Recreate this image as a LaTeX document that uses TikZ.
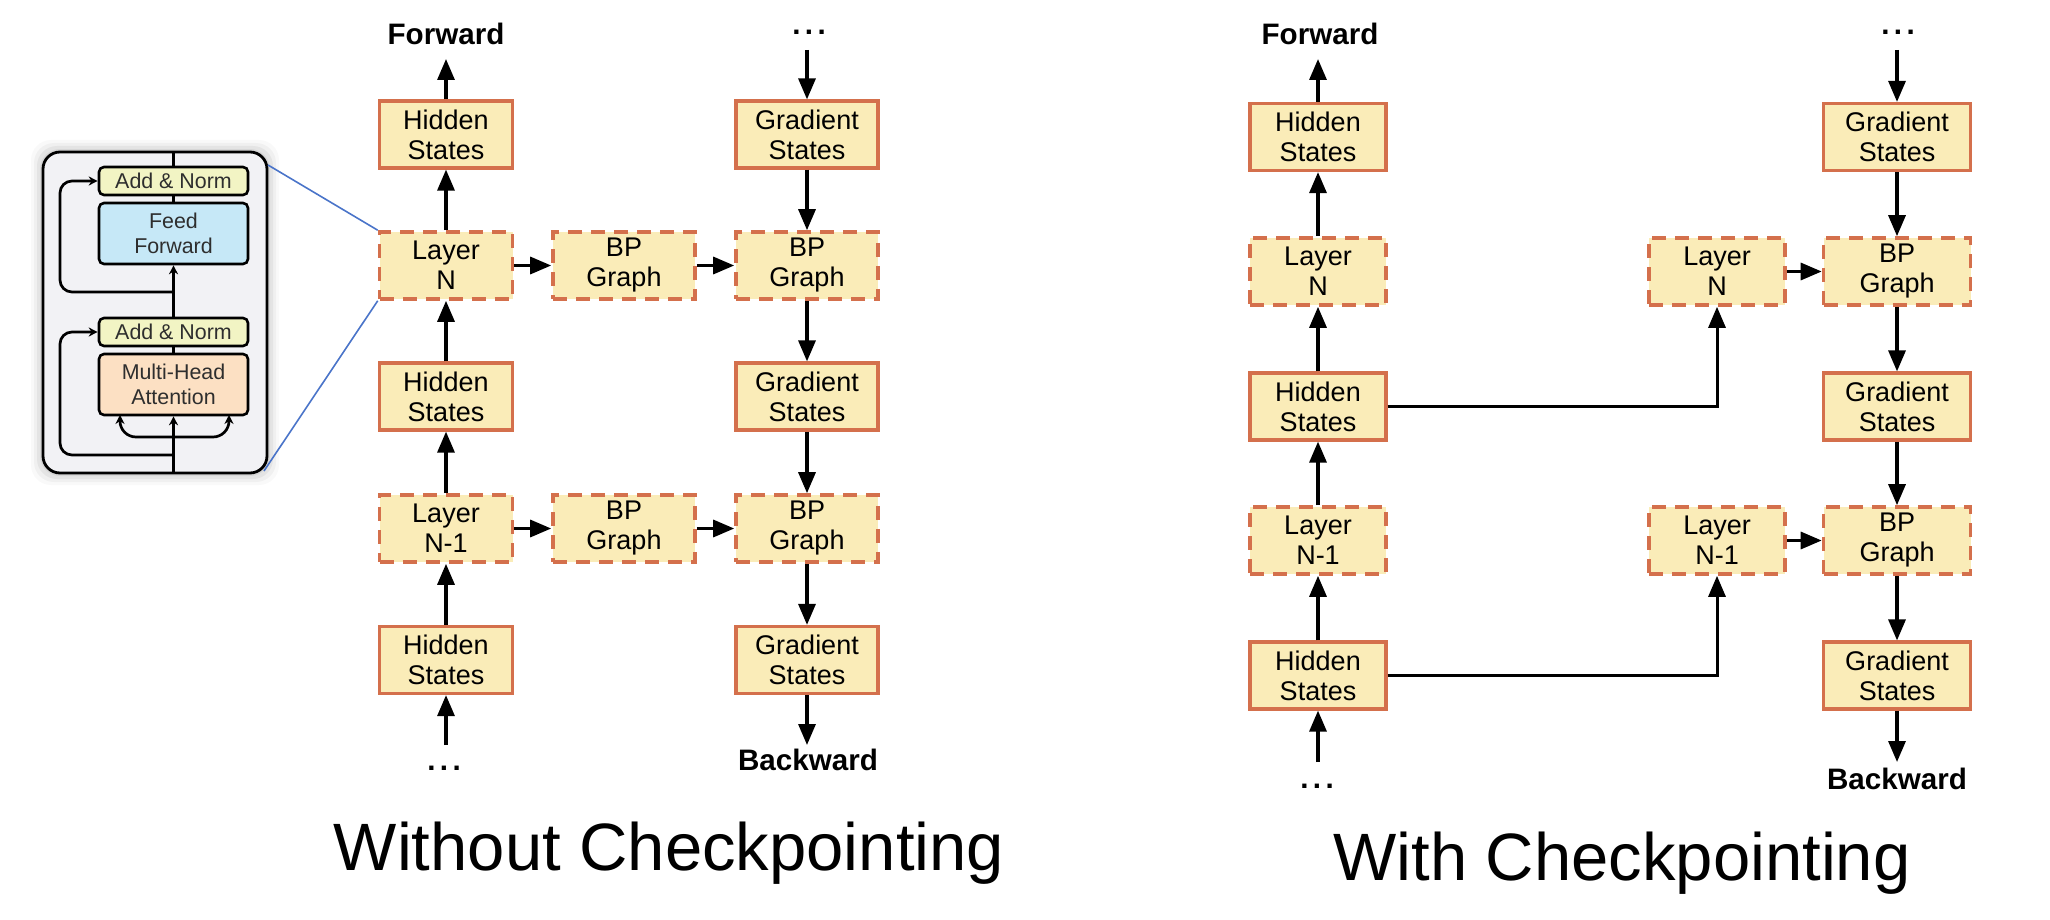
\documentclass[tikz,border=0pt]{standalone}
\usepackage{fontspec}
\setmainfont{Liberation Sans}
\usetikzlibrary{arrows.meta}
\definecolor{boxfill}{HTML}{FAECB8}
\definecolor{boxborder}{HTML}{D4704C}
\definecolor{insetbg}{HTML}{F2F2F5}
\definecolor{anfill}{HTML}{F2F4C4}
\definecolor{fffill}{HTML}{C6E8F7}
\definecolor{mhafill}{HTML}{FCE0C3}
\definecolor{zoomblue}{HTML}{4A74C9}
\definecolor{insettext}{HTML}{2E2E2E}
\newcommand\boxfont{\fontsize{13.5}{15}\selectfont}
\newcommand\dirfont{\fontsize{14.8}{16}\selectfont\bfseries}
\newcommand\capfont{\fontsize{33.5}{36}\selectfont}
\newcommand\insetfont{\fontsize{10.7}{12.5}\selectfont\color{insettext}}
\newcommand\mydots{.\kern2.2pt.\kern2.2pt.}
\begin{document}
\begin{tikzpicture}[x=0.5pt,y=-0.5pt,
  solidbox/.style={draw=boxborder, fill=boxfill, line width=1.6pt, align=center,
     font=\boxfont, inner sep=0pt, minimum height=33.5pt},
  dashbox/.style={solidbox, dash pattern=on 7pt off 4.5pt, line width=1.8pt},
  arr/.style={line width=1.6pt, -{Triangle[length=10.5pt,width=8.5pt]}},
  thinarr/.style={line width=1.5pt, -{Triangle[length=10.5pt,width=8.5pt]}},
  dirtext/.style={font=\dirfont, anchor=base, inner sep=0pt},
  captext/.style={font=\capfont, anchor=base, inner sep=0pt},
  inbox/.style={draw=black, line width=1.3pt, rounded corners=2.5pt, align=center,
     font=\insetfont, inner sep=0pt, minimum width=74.5pt},
  inline/.style={line width=1.35pt},
  inarr/.style={line width=1.35pt, -{Stealth[length=4.5pt,width=4.5pt]}},
  zoomline/.style={draw=zoomblue, line width=0.8pt}
]
\useasboundingbox (0,0) rectangle (2050,920);

% ---------------- inset (transformer block) ----------------
\foreach \d/\o in {12/0.025,9/0.035,6/0.05,3/0.06}
  \fill[black, opacity=\o, rounded corners=10pt] (43-\d,152-\d) rectangle (267+\d,473+\d);
\node[draw=black, line width=1.4pt, fill=insetbg, rounded corners=8.5pt,
      minimum width=112pt, minimum height=160.5pt, inner sep=0pt] (inset) at (155,312.5) {};
\node[inbox, fill=anfill, minimum height=14pt] (an1) at (173.5,181) {Add \& Norm};
\node[inbox, fill=fffill, minimum height=30.5pt] (ff) at (173.5,233.5) {Feed\\Forward};
\node[inbox, fill=anfill, minimum height=14pt] (an2) at (173.5,332) {Add \& Norm};
\node[inbox, fill=mhafill, minimum height=30.5pt] (mha) at (173.5,384.5) {Multi-Head\\Attention};
\coordinate (intop) at (173.5,152);
\coordinate (inbot) at (173.5,473);
\coordinate (res1) at (173.5,292);
\coordinate (res2) at (173.5,455);
\coordinate (br) at (173.5,437);
\draw[inline] (intop) -- (an1.north);
\draw[inline] (an1.south) -- (ff.north);
\draw[inarr] (an2.north) -- (ff.south);
\draw[inline] (mha.north) -- (an2.south);
\draw[inarr] (inbot) -- (mha.south);
\draw[inarr, rounded corners=6pt] (res1) -- (60,292) -- (60,181) -- (an1.west);
\draw[inarr, rounded corners=6pt] (res2) -- (60,455) -- (60,332) -- (an2.west);
\draw[inarr, rounded corners=8pt] (br) -- (120,437) -- (120,415);
\draw[inarr, rounded corners=8pt] (br) -- (229,437) -- (229,415);

% ---------------- left panel: without checkpointing ----------------
\node[solidbox, minimum width=66.5pt] (hs1L) at (446,134.5) {Hidden\\States};
\node[dashbox,  minimum width=66.5pt] (lnL)  at (446,265.5) {Layer\\N};
\node[solidbox, minimum width=66.5pt] (hs2L) at (446,396.5) {Hidden\\States};
\node[dashbox,  minimum width=66.5pt] (ln1L) at (446,528.5) {Layer\\N-1};
\node[solidbox, minimum width=66.5pt] (hs3L) at (446,660) {Hidden\\States};

\node[dashbox, minimum width=71pt] (bpmA) at (624,265.5) {BP\\Graph};
\node[dashbox, minimum width=71pt] (bpmB) at (624,528.5) {BP\\Graph};

\node[solidbox, minimum width=71pt] (gs1L) at (807,134.5) {Gradient\\States};
\node[dashbox,  minimum width=71pt] (bpA)  at (807,265.5) {BP\\Graph};
\node[solidbox, minimum width=71pt] (gs2L) at (807,396.5) {Gradient\\States};
\node[dashbox,  minimum width=71pt] (bpB)  at (807,528.5) {BP\\Graph};
\node[solidbox, minimum width=71pt] (gs3L) at (807,660) {Gradient\\States};

\node[dirtext] (fwdL) at (446,45) {Forward};
\node[dirtext] (dotsTL) at (809,35) {\mydots};
\node[dirtext] (dotsBL) at (444,770) {\mydots};
\node[dirtext] (bwdL) at (808,770) {Backward};
\coordinate (fwdLend) at (446,59);
\coordinate (dotsTLend) at (807,50);
\coordinate (dotsBLend) at (446,745);
\coordinate (bwdLend) at (807,745);

\draw[arr] (hs1L.north) -- (fwdLend);
\draw[arr] (lnL.north) -- (hs1L.south);
\draw[arr] (hs2L.north) -- (lnL.south);
\draw[arr] (ln1L.north) -- (hs2L.south);
\draw[arr] (hs3L.north) -- (ln1L.south);
\draw[arr] (dotsBLend) -- (hs3L.south);
\draw[arr] (lnL.east) -- (bpmA.west);
\draw[arr] (bpmA.east) -- (bpA.west);
\draw[arr] (ln1L.east) -- (bpmB.west);
\draw[arr] (bpmB.east) -- (bpB.west);
\draw[arr] (dotsTLend) -- (gs1L.north);
\draw[arr] (gs1L.south) -- (bpA.north);
\draw[arr] (bpA.south) -- (gs2L.north);
\draw[arr] (gs2L.south) -- (bpB.north);
\draw[arr] (bpB.south) -- (gs3L.north);
\draw[arr] (gs3L.south) -- (bwdLend);

\coordinate (insetTR) at (268,165);
\coordinate (insetBR) at (264,471);
\draw[zoomline] (insetTR) -- (lnL.north west);
\draw[zoomline] (insetBR) -- (lnL.south west);

\node[captext] (capL) at (669,870) {Without Checkpointing};

% ---------------- right panel: with checkpointing ----------------
\node[solidbox, minimum width=68pt] (hs1R) at (1318,137) {Hidden\\States};
\node[dashbox,  minimum width=68pt] (lnR)  at (1318,271.5) {Layer\\N};
\node[solidbox, minimum width=68pt] (hs2R) at (1318,406.5) {Hidden\\States};
\node[dashbox,  minimum width=68pt] (ln1R) at (1318,540.5) {Layer\\N-1};
\node[solidbox, minimum width=68pt] (hs3R) at (1318,675.5) {Hidden\\States};

\node[dashbox, minimum width=68pt] (lnM)  at (1717,271.5) {Layer\\N};
\node[dashbox, minimum width=68pt] (ln1M) at (1717,540.5) {Layer\\N-1};

\node[solidbox, minimum width=73.5pt] (gs1R) at (1897,137) {Gradient\\States};
\node[dashbox,  minimum width=73.5pt] (bpR)  at (1897,271.5) {BP\\Graph};
\node[solidbox, minimum width=73.5pt] (gs2R) at (1897,406.5) {Gradient\\States};
\node[dashbox,  minimum width=73.5pt] (bp1R) at (1897,540.5) {BP\\Graph};
\node[solidbox, minimum width=73.5pt] (gs3R) at (1897,675.5) {Gradient\\States};

\node[dirtext] (fwdR) at (1320,45) {Forward};
\node[dirtext] (dotsTR) at (1898,35) {\mydots};
\node[dirtext] (dotsBR) at (1317,788) {\mydots};
\node[dirtext] (bwdR) at (1897,789) {Backward};
\coordinate (fwdRend) at (1318,59);
\coordinate (dotsTRend) at (1897,50);
\coordinate (dotsBRend) at (1318,762);
\coordinate (bwdRend) at (1897,762);

\draw[arr] (hs1R.north) -- (fwdRend);
\draw[arr] (lnR.north) -- (hs1R.south);
\draw[arr] (hs2R.north) -- (lnR.south);
\draw[arr] (ln1R.north) -- (hs2R.south);
\draw[arr] (hs3R.north) -- (ln1R.south);
\draw[arr] (dotsBRend) -- (hs3R.south);
\draw[thinarr] (hs2R.east) -| (lnM.south);
\draw[thinarr] (hs3R.east) -| (ln1M.south);
\draw[arr] (lnM.east) -- (bpR.west);
\draw[arr] (ln1M.east) -- (bp1R.west);
\draw[arr] (dotsTRend) -- (gs1R.north);
\draw[arr] (gs1R.south) -- (bpR.north);
\draw[arr] (bpR.south) -- (gs2R.north);
\draw[arr] (gs2R.south) -- (bp1R.north);
\draw[arr] (bp1R.south) -- (gs3R.north);
\draw[arr] (gs3R.south) -- (bwdRend);

\node[captext] (capR) at (1622,880) {With Checkpointing};
\end{tikzpicture}
\end{document}
